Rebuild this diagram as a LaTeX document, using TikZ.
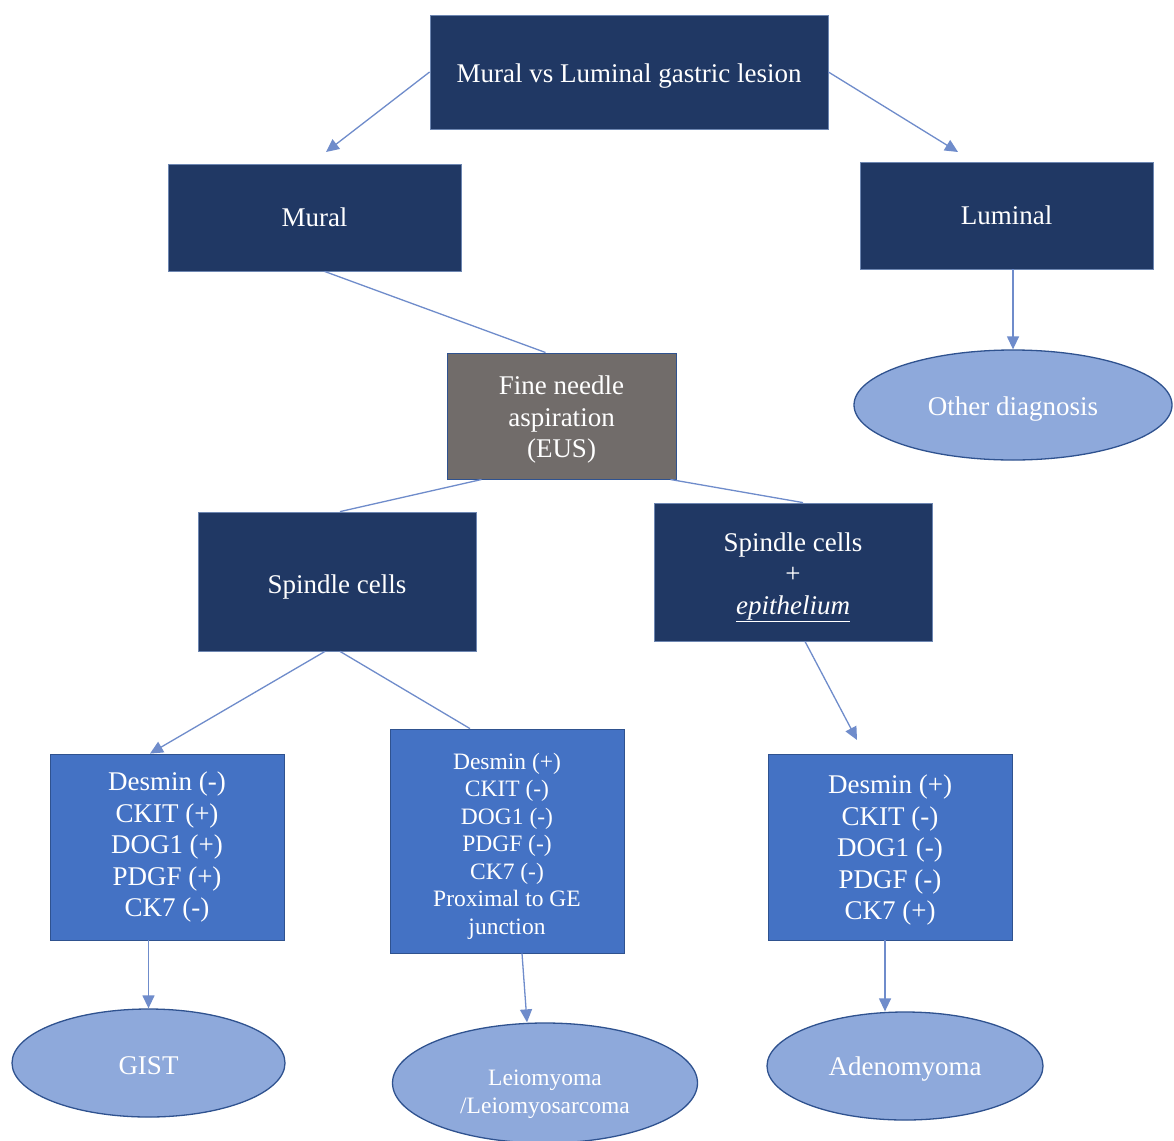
\documentclass[tikz,border=0pt]{standalone}
\usepackage{fontspec}
\setmainfont{Liberation Serif}
\usetikzlibrary{arrows.meta,shapes.geometric,calc}
\definecolor{navy}{HTML}{203864}
\definecolor{midblue}{HTML}{4472C4}
\definecolor{edgeblue}{HTML}{2F528F}
\definecolor{lightblue}{HTML}{8EA9DB}
\definecolor{fnagray}{HTML}{716C6A}
\definecolor{conn}{HTML}{6F8CCB}
\begin{document}
\begin{tikzpicture}[x=1pt,y=-1pt,
  lbl/.style={text=white, align=center, inner sep=0pt, font=\fontsize{27}{31.5}\selectfont},
  small/.style={font=\fontsize{23.5}{27.5}\selectfont},
  base/.style={lbl},
  txt/.style 2 args={label={[lbl,yshift=#1]center:{#2}}},
  stxt/.style 2 args={label={[lbl,small,yshift=#1]center:{#2}}},
  navybox/.style={base, rectangle, fill=navy, draw=edgeblue!70!white, line width=0.8pt},
  bluebox/.style={base, rectangle, fill=midblue, draw=edgeblue, line width=0.8pt},
  graybox/.style={base, rectangle, fill=fnagray, draw=edgeblue, line width=1pt},
  oval/.style={base, ellipse, fill=lightblue, draw=edgeblue, line width=1.3pt},
  link/.style={draw=conn, line width=1.3pt},
  arr/.style={link, -{Triangle[length=13pt,width=12pt]}, color=midblue, draw=conn}
]
\useasboundingbox[fill=white] (0,0) rectangle (1174,1140);

% boxes
\node[navybox, minimum width=398pt, minimum height=114pt,
  txt={-4pt}{Mural vs Luminal gastric lesion}] (top) at (629,72) {};
\node[navybox, minimum width=293pt, minimum height=107pt] (mural) at (314.5,217.5) {Mural};
\node[navybox, minimum width=293pt, minimum height=107pt] (luminal) at (1006.5,215.5) {Luminal};
\node[graybox, minimum width=229pt, minimum height=126pt,
  txt={-4pt}{Fine needle\\aspiration\\(EUS)}] (fna) at (561.5,416) {};
\node[oval, minimum width=318pt, minimum height=110pt,
  txt={-4pt}{Other diagnosis}] (other) at (1013,405) {};
\node[navybox, minimum width=278pt, minimum height=139pt,
  txt={-5pt}{Spindle cells}] (spindle) at (337,581.5) {};
\node[navybox, minimum width=278pt, minimum height=138pt,
  txt={-5pt}{Spindle cells\\+\\\underline{\textit{epithelium}}}] (spepi) at (793,572) {};
\node[bluebox, minimum width=234pt, minimum height=186pt] (gistbox) at (167,847) {Desmin (-)\\CKIT (+)\\DOG1 (+)\\PDGF (+)\\CK7 (-)};
\node[bluebox, minimum width=234pt, minimum height=224pt,
  stxt={-5pt}{Desmin (+)\\CKIT (-)\\DOG1 (-)\\PDGF (-)\\CK7 (-)\\Proximal to GE\\junction}] (leiobox) at (507,841) {};
\node[bluebox, minimum width=244pt, minimum height=186pt,
  txt={-3pt}{Desmin (+)\\CKIT (-)\\DOG1 (-)\\PDGF (-)\\CK7 (+)}] (adenobox) at (890,847) {};
\node[oval, minimum width=273pt, minimum height=108pt,
  txt={-3pt}{GIST}] (gist) at (148.5,1063) {};
\node[oval, minimum width=305pt, minimum height=120pt,
  stxt={-11pt}{Leiomyoma\\/Leiomyosarcoma}] (leio) at (545,1083) {};
\node[oval, minimum width=276pt, minimum height=108pt,
  txt={-3pt}{Adenomyoma}] (adeno) at (905,1066) {};

% free ends
\coordinate (muralTip) at (326,152);
\coordinate (luminalTip) at (958,152);
\coordinate (adenoTip) at (857,740);

% connectors
\draw[arr] (top.west) -- (muralTip);
\draw[arr] (top.east) -- (luminalTip);
\draw[link] ($(mural.south)+(10,0)$) -- ($(fna.north)+(-16,0)$);
\draw[arr] (luminal.south -| other.north) -- (other.north);
\draw[link] ($(fna.south)+(-80,0)$) -- ($(spindle.north)+(3,0)$);
\draw[link] ($(fna.south east)+(-6,0)$) -- ($(spepi.north)+(10,0)$);
\draw[arr] ($(spindle.south)+(-12,0)$) -- ($(gistbox.north)+(-17,0)$);
\draw[link] ($(spindle.south)+(3,0)$) -- ($(leiobox.north)+(-37,0)$);
\draw[arr] ($(spepi.south)+(12,0)$) -- (adenoTip);
\draw[arr] (gist.north |- gistbox.south) -- (gist.north);
\draw[arr] ($(leiobox.south)+(15,0)$) -- ($(leio.north)+(-18,0)$);
\draw[arr] ($(adenobox.south)+(-5,0)$) -- ($(adeno.north)+(-20,0)$);
\end{tikzpicture}
\end{document}
